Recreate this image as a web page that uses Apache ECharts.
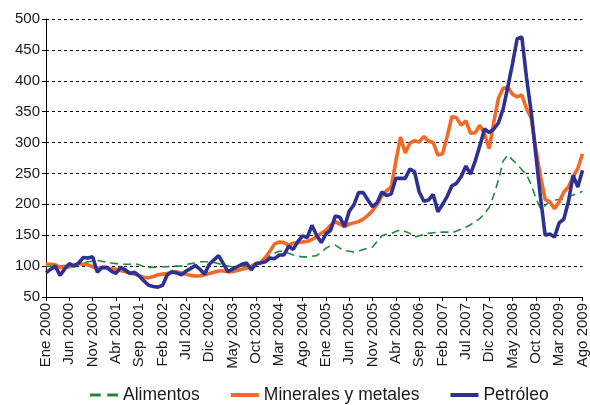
<!DOCTYPE html>
<html>
<head>
<meta charset="utf-8">
<script src="https://cdn.jsdelivr.net/npm/echarts@6/dist/echarts.min.js"></script>
<style>
  html, body { margin: 0; padding: 0; background: #ffffff; }
  #chart { width: 590px; height: 405px; }
</style>
</head>
<body>
<div id="chart"></div>
<script>
// Month abbreviations (Spanish) and years for the category axis
const monthNames = ['Ene','Feb','Mar','Abr','May','Jun','Jul','Ago','Sep','Oct','Nov','Dic'];
const startYear = 2000;
const monthCount = 116; // Ene 2000 .. Ago 2009

// Index values
const alimentos = [
  100,100,101,100,101,102,103,104,105,107,
  108,109,108,106,105,104,104,103,103,104,
  102,99,98,98,99,99,99,100,100,100,
  102,104,105,107,107,107,106,104,102,100,
  99,99,100,101,102,105,108,112,117,121,
  124,124,121,118,116,115,115,116,117,122,
  129,133,134,129,125,124,123,124,127,129,
  131,140,149,152,153,156,159,156,153,147,
  149,151,153,154,155,155,155,154,157,160,
  163,167,172,177,185,195,215,240,270,280,
  272,265,256,248,232,210,193,198,205,207,
  208,209,212,215,218,221
];
const minerales = [
  103,103,102,98,98,99,101,104,103,102,
  99,97,97,97,96,95,93,91,89,87,
  84,82,81,83,86,87,88,90,91,89,
  87,85,84,84,86,88,90,92,92,91,
  91,93,95,97,99,103,106,114,124,136,
  139,138,134,137,138,139,140,143,148,153,
  158,166,172,168,164,168,170,172,176,182,
  190,200,214,222,228,270,309,283,299,303,
  301,310,302,300,280,282,310,342,340,328,
  335,315,316,328,314,290,334,372,388,390,
  378,374,377,355,340,290,245,208,204,193,
  204,220,228,245,258,282
];
const petroleo = [
  89,95,100,85,95,104,100,105,114,113,
  115,90,98,98,92,88,98,94,88,90,
  84,76,69,67,66,69,86,91,89,86,
  92,96,101,95,87,103,110,117,104,91,
  95,99,103,105,94,104,105,107,113,112,
  118,118,132,127,140,149,146,166,150,138,
  152,158,181,179,164,189,199,219,219,207,
  196,203,220,214,217,242,242,242,257,253,
  220,205,207,216,188,200,213,230,234,245,
  262,249,270,295,322,316,322,332,355,390,
  428,468,471,405,350,280,211,150,152,147,
  170,176,205,247,228,255
];

const yTicks = { min: 50, max: 500, step: 50 };

const categories = [];
for (let i = 0; i < monthCount; i++) {
  categories.push(monthNames[i % 12] + ' ' + (startYear + Math.floor(i / 12)));
}

const FONT = '"Liberation Sans", Arial, Helvetica, sans-serif';
const chart = echarts.init(document.getElementById('chart'), null, { renderer: 'canvas' });

const solidIcon = 'path://M0,0H28V4H0Z';
const dashIcon = 'path://M0,0H10V3H0Z M16,0H26V3H16Z';

chart.setOption({
  animation: false,
  backgroundColor: '#ffffff',
  grid: { left: 46, right: 4, top: 19, bottom: 108, containLabel: false },
  legend: {
    left: 85,
    top: 381,
    itemWidth: 28,
    itemHeight: 4,
    itemGap: 31,
    itemStyle: { borderWidth: 0 },
    textStyle: { fontFamily: FONT, fontSize: 17.5, color: '#1a1a1a' },
    data: [
      { name: 'Alimentos', icon: dashIcon },
      { name: 'Minerales y metales', icon: solidIcon },
      { name: 'Petróleo', icon: solidIcon }
    ]
  },
  xAxis: {
    type: 'category',
    data: categories,
    boundaryGap: false,
    axisLine: { show: true, lineStyle: { color: '#000', width: 1 } },
    axisTick: { show: true, interval: 4, length: 4, lineStyle: { color: '#000' } },
    axisLabel: {
      interval: 4, rotate: 90, margin: 6,
      fontFamily: FONT, fontSize: 15, color: '#1a1a1a'
    },
    splitLine: { show: false }
  },
  yAxis: {
    type: 'value',
    min: yTicks.min, max: yTicks.max, interval: yTicks.step,
    axisLine: { show: true, lineStyle: { color: '#000', width: 1 } },
    axisTick: { show: true, length: 4, lineStyle: { color: '#000' } },
    axisLabel: { margin: 6, fontFamily: FONT, fontSize: 15, color: '#1a1a1a' },
    splitLine: { show: true, lineStyle: { color: '#000', type: [3, 3], width: 1 } }
  },
  series: [
    {
      name: 'Alimentos', type: 'line', data: alimentos, symbol: 'none', z: 2,
      lineStyle: { color: '#1f8a3c', width: 1.6, type: [8, 5] },
      itemStyle: { color: '#1f8a3c' }
    },
    {
      name: 'Minerales y metales', type: 'line', data: minerales, symbol: 'none', z: 3,
      lineStyle: { color: '#f26a24', width: 3.6 },
      itemStyle: { color: '#f26a24' }
    },
    {
      name: 'Petróleo', type: 'line', data: petroleo, symbol: 'none', z: 4,
      lineStyle: { color: '#2e3192', width: 3.6 },
      itemStyle: { color: '#2e3192' }
    }
  ]
});
</script>
</body>
</html>
